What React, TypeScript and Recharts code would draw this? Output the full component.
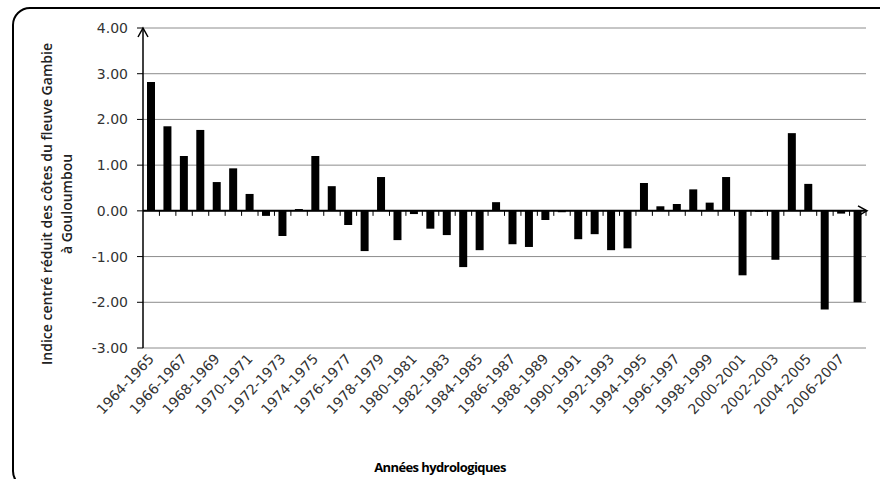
import { BarChart, Bar, XAxis, YAxis, CartesianGrid, ReferenceLine } from "recharts";

// Années hydrologiques 1964-1965 -> 2007-2008
const ANNEES = [
  "1964-1965", "1965-1966", "1966-1967", "1967-1968", "1968-1969", "1969-1970",
  "1970-1971", "1971-1972", "1972-1973", "1973-1974", "1974-1975", "1975-1976",
  "1976-1977", "1977-1978", "1978-1979", "1979-1980", "1980-1981", "1981-1982",
  "1982-1983", "1983-1984", "1984-1985", "1985-1986", "1986-1987", "1987-1988",
  "1988-1989", "1989-1990", "1990-1991", "1991-1992", "1992-1993", "1993-1994",
  "1994-1995", "1995-1996", "1996-1997", "1997-1998", "1998-1999", "1999-2000",
  "2000-2001", "2001-2002", "2002-2003", "2003-2004", "2004-2005", "2005-2006",
  "2006-2007", "2007-2008",
];

// indice centré réduit
const INDICES = [
  2.82, 1.85, 1.2, 1.77, 0.63, 0.93, 0.37, -0.11, -0.55, 0.04, 1.2, 0.54,
  -0.31, -0.88, 0.74, -0.64, -0.07, -0.39, -0.53, -1.23, -0.86, 0.19, -0.73, -0.79,
  -0.2, -0.03, -0.62, -0.51, -0.86, -0.82, 0.61, 0.1, 0.15, 0.47, 0.18, 0.74,
  -1.41, -0.02, -1.07, 1.7, 0.59, -2.16, -0.06, -2.0,
];

const GRADUATIONS = [-3, -2, -1, 0, 1, 2, 3, 4];

const donnees = ANNEES.map((annee, i) => ({ annee, indice: INDICES[i] }));

const POLICE = "DejaVu Sans";

function EtiquetteAnnee({ x, y, payload }: any) {
  return (
    <text
      x={x}
      y={y}
      dy={5}
      textAnchor="end"
      transform={`rotate(-47 ${x} ${y})`}
      fontSize={14}
      fill="#333"
      fontFamily={POLICE}
    >
      {payload.value}
    </text>
  );
}

// axe des abscisses à y = 0, avec graduations entre les barres et flèche
function AxeZero(props: any) {
  const gauche = Math.min(props.x1, props.x2);
  const droite = Math.max(props.x1, props.x2);
  const y = props.y1;
  const pas = (droite - gauche) / donnees.length;
  return (
    <g>
      <line x1={gauche} y1={y} x2={droite} y2={y} stroke="#000" strokeWidth={2} />
      {donnees.map((_, i) => (
        <line
          key={i}
          x1={gauche + pas * (i + 1)}
          x2={gauche + pas * (i + 1)}
          y1={y}
          y2={y + 5}
          stroke="#000"
          strokeWidth={1}
        />
      ))}
      <polyline
        points={`${droite - 8},${y - 5} ${droite + 1},${y} ${droite - 8},${y + 5}`}
        fill="none"
        stroke="#000"
        strokeWidth={1.5}
      />
    </g>
  );
}

// flèche en haut de l'axe des ordonnées
function FlecheOrdonnee(props: any) {
  const x = Math.min(props.x1, props.x2);
  const y = props.y1;
  return (
    <polyline
      points={`${x - 5},${y + 9} ${x},${y} ${x + 5},${y + 9}`}
      fill="none"
      stroke="#000"
      strokeWidth={1.5}
    />
  );
}

export default function App() {
  return (
    <div style={{ position: "fixed", left: 0, top: 0, width: 880, height: 479, overflow: "hidden", background: "#fff" }}>
      <div
        style={{
          position: "absolute",
          left: 12,
          top: 7,
          width: 880,
          height: 478,
          border: "2px solid #000",
          borderRadius: 18,
        }}
      />
      <div style={{ position: "absolute", left: 0, top: 0 }}>
        <BarChart
          width={880}
          height={479}
          data={donnees}
          margin={{ top: 28, right: 14, left: 0, bottom: 0 }}
          style={{ fontFamily: POLICE }}
        >
          <CartesianGrid vertical={false} stroke="#8c8c8c" strokeWidth={1} />
          <XAxis
            dataKey="annee"
            interval={1}
            height={131}
            tickLine={false}
            axisLine={false}
            tick={<EtiquetteAnnee />}
          />
          <YAxis
            type="number"
            domain={[-3, 4]}
            ticks={GRADUATIONS}
            width={143}
            tickFormatter={(v: number) => v.toFixed(2)}
            axisLine={{ stroke: "#000", strokeWidth: 1.5 }}
            tickLine={{ stroke: "#000" }}
            tickSize={6}
            tickMargin={9}
            tick={{ fontSize: 14, fill: "#333", fontFamily: POLICE }}
          />
          <Bar dataKey="indice" fill="#000" barSize={8} isAnimationActive={false} />
          <ReferenceLine y={0} shape={AxeZero} />
          <ReferenceLine y={4} shape={FlecheOrdonnee} />
        </BarChart>
      </div>
      <svg width={880} height={479} style={{ position: "absolute", left: 0, top: 0, pointerEvents: "none" }}>
        <g fontFamily="Open Sans" fontWeight={600} fontSize={14} fill="#222" textAnchor="middle">
          <text transform="translate(52 204) rotate(-90)">Indice centré réduit des côtes du fleuve Gambie</text>
          <text transform="translate(72 204) rotate(-90)">à Gouloumbou</text>
          <text x={440} y={472} fontSize={13} fontWeight={700} fill="#000" letterSpacing={-0.6}>
            Années hydrologiques
          </text>
        </g>
      </svg>
    </div>
  );
}
